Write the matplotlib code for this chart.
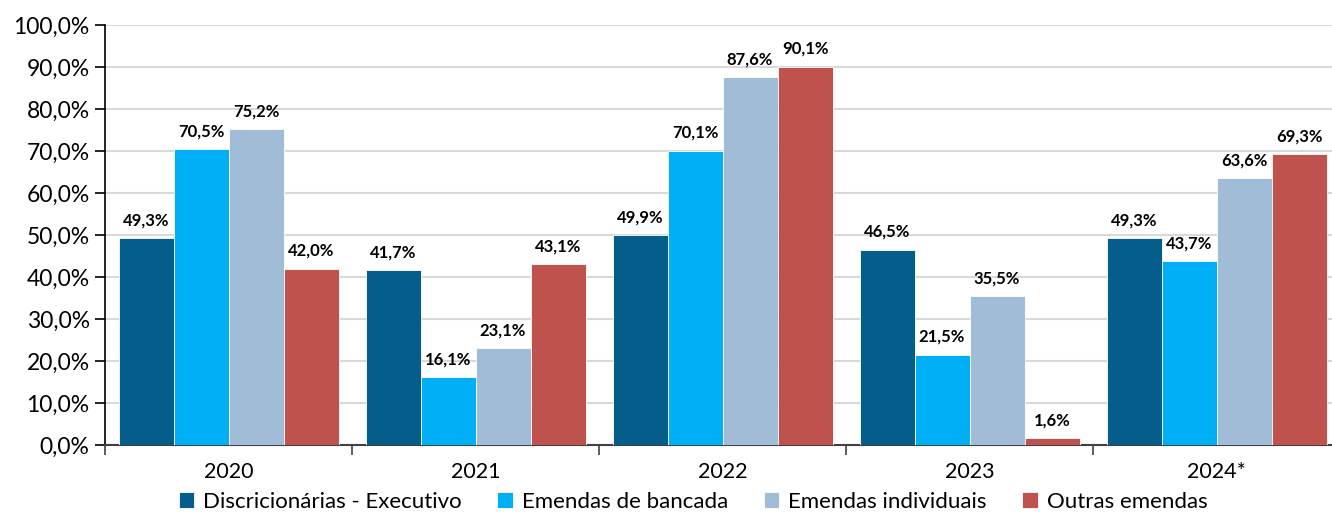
import numpy as np
import matplotlib
matplotlib.use("Agg")
import matplotlib.pyplot as plt
from matplotlib.ticker import FuncFormatter, FixedLocator

plt.rcParams['font.family'] = ['Lato', 'DejaVu Sans']

anos = ["2020", "2021", "2022", "2023", "2024*"]
series = ["Discricionárias - Executivo", "Emendas de bancada",
          "Emendas individuais", "Outras emendas"]
discricionarias = [49.3, 41.7, 49.9, 46.5, 49.3]
bancada = [70.5, 16.1, 70.1, 21.5, 43.7]
individuais = [75.2, 23.1, 87.6, 35.5, 63.6]
outras = [42.0, 43.1, 90.1, 1.6, 69.3]
cores = ["#045D8B", "#00AFF5", "#A1BCD6", "#C0524D"]

valores = [discricionarias, bancada, individuais, outras]

fig = plt.figure(figsize=(13.32, 5.14), dpi=100)
ax = fig.add_axes([105/1332, 69/514, 1235/1332, 420/514])

x = np.arange(len(anos))
w = 55/247
for i, (vals, cor, nome) in enumerate(zip(valores, cores, series)):
    pos = x + (i - 1.5)*w
    ax.bar(pos, vals, width=w, color=cor, edgecolor='white', linewidth=0.6,
           label=nome, zorder=3)
    for px, v in zip(pos, vals):
        ax.annotate(f"{v:.1f}%".replace('.', ','), (px, v), xytext=(0, 7),
                    textcoords='offset points', ha='center', va='bottom',
                    fontsize=12, fontweight='bold', color='black')

ax.set_xlim(-0.5, len(anos) - 0.5)
ax.set_ylim(0, 100)
ax.set_yticks(np.arange(0, 101, 10))
ax.yaxis.set_major_formatter(FuncFormatter(lambda v, p: f"{v:.1f}%".replace('.', ',')))
ax.grid(axis='y', color='#D9D9D9', linewidth=1.5, zorder=0)
ax.set_axisbelow(True)

ax.set_xticks(x)
ax.set_xticklabels(anos)
ax.tick_params(axis='x', which='major', length=0, pad=12, labelsize=15.5)
ax.xaxis.set_minor_locator(FixedLocator(np.arange(-0.5, len(anos), 1)))
ax.tick_params(axis='x', which='minor', length=7, width=1.2, color='#404040', direction='out')
ax.tick_params(axis='y', length=7, width=1.2, labelsize=16.5, pad=4)

for s in ['top', 'right']:
    ax.spines[s].set_visible(False)
ax.spines['left'].set_color('black')
ax.spines['left'].set_linewidth(1.2)
ax.spines['bottom'].set_color('#404040')
ax.spines['bottom'].set_linewidth(1.5)

fig.legend(loc='lower center', bbox_to_anchor=(693/1332, -0.035), ncol=4,
           frameon=False, fontsize=16, handlelength=0.7, handleheight=0.7,
           handletextpad=0.4, columnspacing=1.6)

fig.savefig("out.png", dpi=100)
